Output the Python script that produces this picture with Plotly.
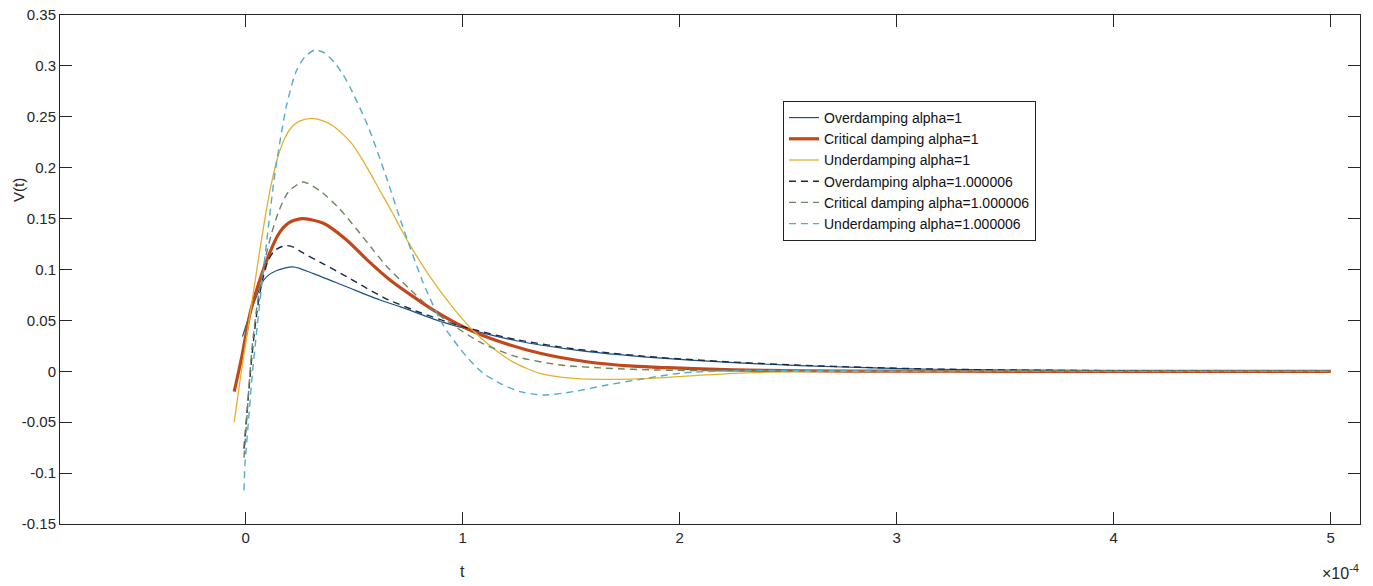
import plotly.graph_objects as go

# time in units of 1e-4 s
t_over1 = [-0.015, 0.0, 0.02, 0.043, 0.058, 0.074, 0.097, 0.143, 0.218, 0.312, 0.465, 0.619, 0.711,
           0.911, 1.049, 1.249, 1.479, 1.633, 1.848, 2.05, 2.247, 2.554, 2.86, 3.17, 3.5, 4.0, 4.5, 5.0]
v_over1 = [0.034, 0.044, 0.057, 0.070, 0.078, 0.0865, 0.093, 0.099, 0.1025, 0.096, 0.083, 0.070, 0.0635,
           0.048, 0.040, 0.030, 0.022, 0.018, 0.014, 0.011, 0.0085, 0.0055, 0.0035, 0.002, 0.0012, 0.0005, 0.0002, 0.0001]

t_crit1 = [-0.053, -0.018, 0.020, 0.058, 0.104, 0.155, 0.200, 0.258, 0.358, 0.465, 0.557, 0.665, 0.772,
           0.865, 1.018, 1.172, 1.356, 1.571, 1.786, 1.94, 2.247, 2.55, 3.0, 3.5, 4.0, 5.0]
v_crit1 = [-0.020, 0.0143, 0.057, 0.085, 0.113, 0.136, 0.146, 0.150, 0.1454, 0.129, 0.110, 0.0897, 0.0733,
           0.060, 0.042, 0.029, 0.0177, 0.0094, 0.005, 0.0035, 0.0013, 0.0005, 0.0001, 0.0, 0.0, 0.0]

t_under1 = [-0.053, -0.026, 0.0, 0.03, 0.06, 0.09, 0.12, 0.15, 0.18, 0.212, 0.25, 0.304, 0.35, 0.396, 0.44,
            0.488, 0.535, 0.581, 0.625, 0.673, 0.715, 0.757, 0.865, 0.957, 1.034, 1.126, 1.233, 1.356, 1.510,
            1.694, 1.863, 2.05, 2.246, 2.55, 3.0, 4.0, 5.0]
v_under1 = [-0.050, -0.009, 0.028, 0.070, 0.112, 0.152, 0.186, 0.212, 0.229, 0.240, 0.246, 0.2485, 0.2465,
            0.242, 0.2345, 0.224, 0.209, 0.192, 0.175, 0.157, 0.140, 0.124, 0.088, 0.062, 0.043, 0.025, 0.009,
            -0.002, -0.0069, -0.0079, -0.0069, -0.0045, -0.002, -0.0004, 0.0, 0.0, 0.0]

t_over2 = [-0.008, 0.004, 0.016, 0.03, 0.051, 0.074, 0.104, 0.135, 0.181, 0.22, 0.258, 0.362, 0.465, 0.558,
           0.65, 0.8, 0.95, 1.05, 1.249, 1.479, 1.633, 1.848, 2.05, 2.247, 2.554, 2.86, 3.17, 3.5, 4.0, 4.5, 5.0]
v_over2 = [-0.076, -0.045, -0.015, 0.018, 0.057, 0.0865, 0.109, 0.119, 0.1235, 0.122, 0.117, 0.105, 0.093, 0.0815,
           0.071, 0.058, 0.047, 0.041, 0.031, 0.023, 0.019, 0.0145, 0.0115, 0.009, 0.006, 0.0038, 0.0022, 0.0013,
           0.0006, 0.0002, 0.0001]

t_crit2 = [-0.008, 0.004, 0.016, 0.03, 0.051, 0.074, 0.097, 0.12, 0.150, 0.196, 0.265, 0.35, 0.431, 0.508,
           0.588, 0.65, 0.75, 0.85, 0.957, 1.095, 1.249, 1.448, 1.664, 1.9, 2.2, 2.6, 3.0, 4.0, 5.0]
v_crit2 = [-0.085, -0.05, -0.012, 0.025, 0.063, 0.094, 0.117, 0.136, 0.156, 0.176, 0.186, 0.176, 0.160, 0.1405,
           0.119, 0.103, 0.082, 0.062, 0.045, 0.027, 0.0143, 0.0062, 0.003, 0.0012, 0.0005, 0.0001, 0.0, 0.0, 0.0]

t_under2 = [-0.008, -0.003, 0.012, 0.028, 0.051, 0.074, 0.097, 0.135, 0.189, 0.235, 0.275, 0.319, 0.365, 0.412,
            0.45, 0.488, 0.565, 0.642, 0.719, 0.819, 0.911, 1.018, 1.095, 1.172, 1.264, 1.371, 1.510, 1.664, 1.848,
            2.017, 2.3, 2.7, 3.2, 4.0, 5.0]
v_under2 = [-0.117, -0.090, -0.051, -0.0085, 0.0406, 0.085, 0.128, 0.195, 0.262, 0.296, 0.3095, 0.3157, 0.3125,
            0.3025, 0.291, 0.276, 0.240, 0.1945, 0.145, 0.0864, 0.045, 0.0143, -0.002, -0.0118, -0.020, -0.0233,
            -0.020, -0.0135, -0.0069, -0.0015, 0.0008, 0.0005, 0.0001, 0.0, 0.0]

names = ["Overdamping alpha=1", "Critical damping alpha=1", "Underdamping alpha=1",
         "Overdamping alpha=1.000006", "Critical damping alpha=1.000006", "Underdamping alpha=1.000006"]

x_tick_vals = [0, 1, 2, 3, 4, 5]
x_tick_text = ["0", "1", "2", "3", "4", "5"]
y_tick_vals = [-0.15, -0.1, -0.05, 0, 0.05, 0.1, 0.15, 0.2, 0.25, 0.3, 0.35]
y_tick_text = ["-0.15", "-0.1", "-0.05", "0", "0.05", "0.1", "0.15", "0.2", "0.25", "0.3", "0.35"]

series = [
    (t_over1, v_over1, "#17538a", 1.2, "solid"),
    (t_crit1, v_crit1, "#c2481b", 3.2, "solid"),
    (t_under1, v_under1, "#e2b22e", 1.3, "solid"),
    (t_over2, v_over2, "#1b2a44", 1.4, "7px,5px"),
    (t_crit2, v_crit2, "#6d8462", 1.4, "7px,5px"),
    (t_under2, v_under2, "#55aacb", 1.4, "7px,5px"),
]

fig = go.Figure()
for (tx, vy, col, w, dash), nm in zip(series, names):
    fig.add_trace(go.Scatter(x=tx, y=vy, mode="lines", name=nm,
                             line=dict(color=col, width=w, dash=dash, shape="spline", smoothing=0.7)))

# page body has a default 8px margin; compensate so the plot lands where the reference has it
OFF = 8
W, H = 1373 - OFF, 586 - OFF
L, R, T, B = 60 - OFF, 13, 15 - OFF, 62
pw, ph = W - L - R, H - T - B

def px(x):
    return (x - OFF - L) / pw

def py(y):
    return (H - B - (y - OFF)) / ph

axis_col = "#262626"
font_family = "Liberation Sans, Arial, sans-serif"

fig.update_layout(
    width=W, height=H,
    margin=dict(l=L, r=R, t=T, b=B, autoexpand=False),
    paper_bgcolor="white", plot_bgcolor="white",
    font=dict(family=font_family, size=15, color=axis_col),
    showlegend=True,
    legend=dict(x=px(783), y=py(101), xanchor="left", yanchor="top",
                bgcolor="white", bordercolor="#222222", borderwidth=1,
                font=dict(size=14, color="#111111")),
    xaxis=dict(range=[-0.8558, 5.135], tickvals=x_tick_vals, ticktext=x_tick_text,
               ticks="inside", ticklen=12, tickwidth=1, tickcolor=axis_col,
               showline=True, linecolor=axis_col, linewidth=1, mirror="ticks",
               showgrid=False, zeroline=False, tickfont=dict(size=15),
               ticklabeloverflow="allow", automargin=False),
    yaxis=dict(range=[-0.15005, 0.35005], tickvals=y_tick_vals, ticktext=y_tick_text,
               ticks="inside", ticklen=12, tickwidth=1, tickcolor=axis_col,
               showline=True, linecolor=axis_col, linewidth=1, mirror="ticks",
               showgrid=False, zeroline=False, tickfont=dict(size=15),
               ticklabeloverflow="allow", automargin=False),
    annotations=[
        dict(text="t", x=px(462), y=py(571), xref="paper", yref="paper",
             xanchor="center", yanchor="middle",
             showarrow=False, font=dict(size=16, color=axis_col)),
        dict(text="V(t)", x=px(18), y=py(190), xref="paper", yref="paper",
             xanchor="center", yanchor="middle",
             showarrow=False, textangle=-90, font=dict(size=15, color=axis_col)),
        dict(text="×10<sup>-4</sup>", x=px(1361), y=py(572), xref="paper", yref="paper",
             xanchor="right", yanchor="middle", showarrow=False, font=dict(size=16, color=axis_col)),
    ],
)

fig.write_html("out.html")
